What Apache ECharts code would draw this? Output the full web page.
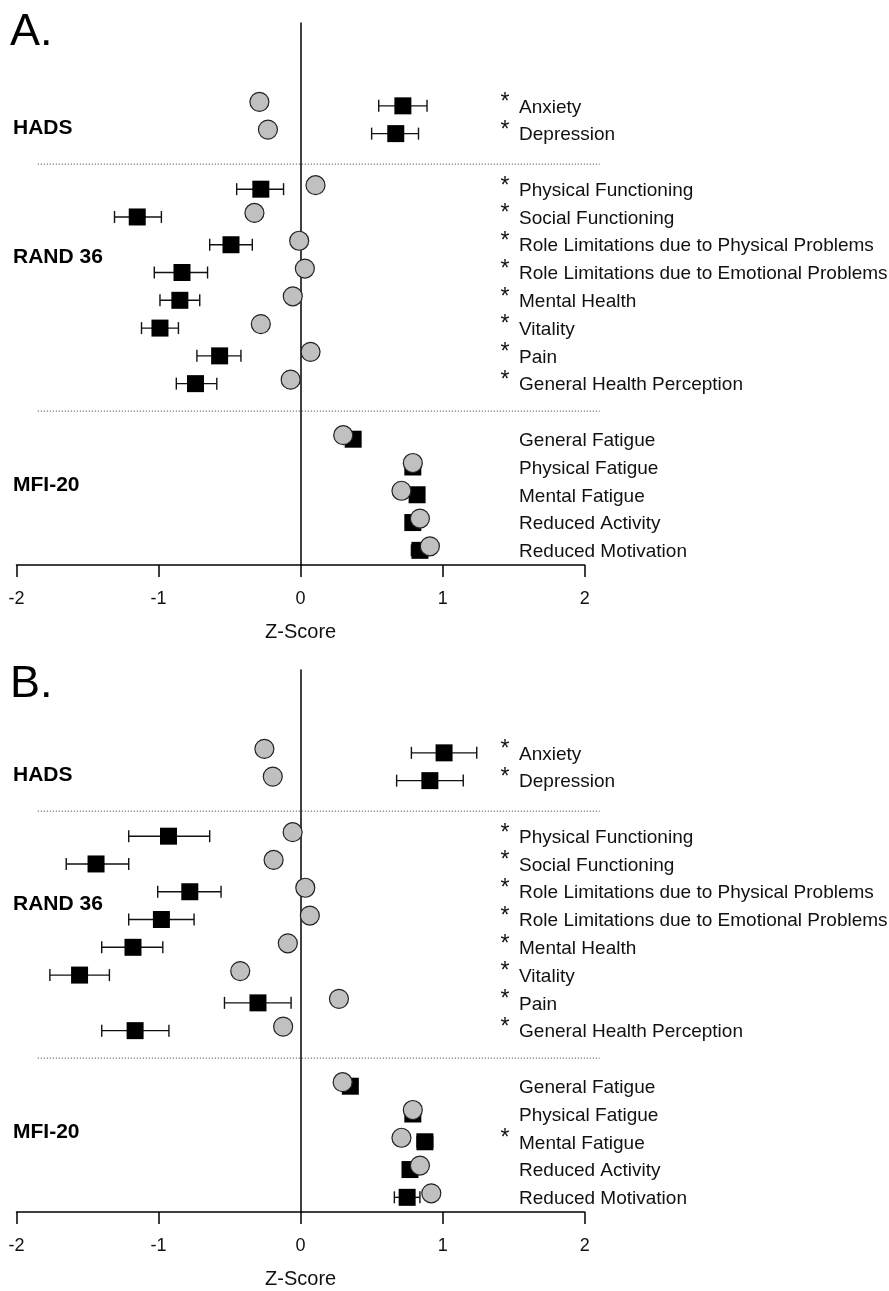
<!DOCTYPE html>
<html>
<head>
<meta charset="utf-8">
<script src="https://cdn.jsdelivr.net/npm/echarts@6/dist/echarts.min.js"></script>
<style>
  html, body { margin: 0; padding: 0; background: #fff; }
  #main { width: 889px; height: 1291px; }
</style>
</head>
<body>
<div id="main"></div>
<script>
// rows, top to bottom (slot = vertical position, gaps hold the dotted separators)
var rowLabels = ['Anxiety', 'Depression', 'Physical Functioning', 'Social Functioning',
  'Role Limitations due to Physical Problems', 'Role Limitations due to Emotional Problems',
  'Mental Health', 'Vitality', 'Pain', 'General Health Perception', 'General Fatigue',
  'Physical Fatigue', 'Mental Fatigue', 'Reduced Activity', 'Reduced Motivation'];
var rowSlots = [0, 1, 3, 4, 5, 6, 7, 8, 9, 10, 12, 13, 14, 15, 16];
var groupNames = ['HADS', 'RAND 36', 'MFI-20'];
var groupSlots = [0.87, 5.52, 13.72];
var separatorSlots = [2.17, 11.06];
var xTicks = [-2, -1, 0, 1, 2];

// panel A
var patientsA = [0.72, 0.67, -0.28, -1.15, -0.49, -0.835, -0.85, -0.99, -0.57, -0.74, 0.37, 0.79, 0.82, 0.79, 0.84];
var lowA = [0.55, 0.50, -0.45, -1.31, -0.64, -1.03, -0.99, -1.12, -0.73, -0.875, 0.32, 0.74, 0.77, 0.74, 0.78];
var highA = [0.89, 0.83, -0.12, -0.98, -0.34, -0.655, -0.71, -0.86, -0.42, -0.59, 0.42, 0.84, 0.87, 0.84, 0.90];
var controlsA = [-0.29, -0.23, 0.105, -0.325, -0.01, 0.03, -0.055, -0.28, 0.07, -0.07, 0.30, 0.79, 0.71, 0.84, 0.91];
var starsA = [1, 1, 1, 1, 1, 1, 1, 1, 1, 1, 0, 0, 0, 0, 0];

// panel B
var patientsB = [1.01, 0.91, -0.93, -1.44, -0.78, -0.98, -1.18, -1.556, -0.30, -1.165, 0.35, 0.79, 0.875, 0.77, 0.75];
var lowB = [0.78, 0.676, -1.21, -1.65, -1.006, -1.21, -1.40, -1.765, -0.536, -1.40, 0.30, 0.74, 0.82, 0.72, 0.66];
var highB = [1.24, 1.145, -0.64, -1.21, -0.56, -0.75, -0.97, -1.346, -0.067, -0.927, 0.40, 0.84, 0.93, 0.82, 0.84];
var controlsB = [-0.255, -0.196, -0.056, -0.19, 0.033, 0.065, -0.09, -0.425, 0.27, -0.123, 0.296, 0.79, 0.71, 0.84, 0.92];
var starsB = [1, 1, 1, 1, 1, 1, 1, 1, 1, 1, 0, 0, 1, 0, 0];

var FONT = '"Liberation Sans", Arial, sans-serif';
var LABEL_X = 1.404;   // where the asterisk column starts
var SEP_X0 = -1.85, SEP_X1 = 2.105;

var chart = echarts.init(document.getElementById('main'));

var gridTops = [23, 670];
var grids = [], xAxes = [], yAxes = [], series = [];

function addPanel(i, patients, low, high, controls, stars) {
  grids.push({ left: 16.5, right: 304.3, top: gridTops[i], height: 542 });
  xAxes.push({
    gridIndex: i, type: 'value', min: xTicks[0], max: xTicks[xTicks.length - 1], interval: 1,
    axisLine: { onZero: false, lineStyle: { color: '#000', width: 1.5 } },
    axisTick: { length: 12, lineStyle: { color: '#000', width: 1.5 } },
    axisLabel: { margin: 25, fontSize: 18, color: '#111', fontFamily: FONT },
    splitLine: { show: false },
    name: 'Z-Score', nameLocation: 'middle', nameGap: 57,
    nameTextStyle: { fontSize: 20, color: '#111', fontFamily: FONT }
  });
  yAxes.push({
    gridIndex: i, type: 'value', inverse: true, min: -2.91, max: 16.6,
    axisLine: { show: true, onZero: true, lineStyle: { color: '#000', width: 1.5 } },
    axisTick: { show: false }, axisLabel: { show: false }, splitLine: { show: false }
  });

  // dotted separators
  series.push({
    type: 'custom', xAxisIndex: i, yAxisIndex: i, silent: true, z: 1,
    data: separatorSlots.map(function (s) { return [SEP_X0, SEP_X1, s]; }),
    encode: { x: [0, 1], y: 2 },
    renderItem: function (params, api) {
      var a = api.coord([api.value(0), api.value(2)]);
      var b = api.coord([api.value(1), api.value(2)]);
      return {
        type: 'line', shape: { x1: a[0], y1: a[1], x2: b[0], y2: b[1] },
        style: { stroke: '#333', lineWidth: 1, lineDash: [1, 2] }
      };
    }
  });

  // error bars
  series.push({
    type: 'custom', xAxisIndex: i, yAxisIndex: i, silent: true, z: 2,
    data: rowSlots.map(function (s, k) { return [low[k], high[k], s]; }),
    encode: { x: [0, 1], y: 2 },
    renderItem: function (params, api) {
      var a = api.coord([api.value(0), api.value(2)]);
      var b = api.coord([api.value(1), api.value(2)]);
      var y = a[1] + 2, h = 6;
      var st = { stroke: '#111', lineWidth: 1.4 };
      return {
        type: 'group', children: [
          { type: 'line', shape: { x1: a[0], y1: y, x2: b[0], y2: y }, style: st },
          { type: 'line', shape: { x1: a[0], y1: y - h, x2: a[0], y2: y + h }, style: st },
          { type: 'line', shape: { x1: b[0], y1: y - h, x2: b[0], y2: y + h }, style: st }
        ]
      };
    }
  });

  // patients (black squares)
  series.push({
    type: 'scatter', xAxisIndex: i, yAxisIndex: i, silent: true, z: 3,
    symbol: 'rect', symbolSize: 17, symbolOffset: [0, 2],
    itemStyle: { color: '#000', opacity: 1 },
    data: rowSlots.map(function (s, k) { return [patients[k], s]; })
  });

  // controls (grey circles)
  series.push({
    type: 'scatter', xAxisIndex: i, yAxisIndex: i, silent: true, z: 4,
    symbol: 'circle', symbolSize: 19, symbolOffset: [0, -2],
    itemStyle: { color: '#c0c0c0', borderColor: '#222', borderWidth: 1.2, opacity: 1 },
    data: rowSlots.map(function (s, k) { return [controls[k], s]; })
  });

  // row labels with asterisks
  series.push({
    type: 'scatter', xAxisIndex: i, yAxisIndex: i, silent: true, z: 5,
    symbolSize: 1, itemStyle: { color: 'transparent', opacity: 1 },
    data: rowSlots.map(function (s) { return [LABEL_X, s]; }),
    label: {
      show: true, position: 'right', distance: 0, offset: [0, 3.5],
      formatter: function (p) {
        return (stars[p.dataIndex] ? '{s|*}' : '{h|*}') + '{t|' + rowLabels[p.dataIndex] + '}';
      },
      rich: {
        s: { width: 18.5, fontSize: 23, color: '#111', fontFamily: FONT, verticalAlign: 'middle', padding: [0, 0, 9, 0] },
        h: { width: 18.5, fontSize: 23, color: 'transparent', fontFamily: FONT, verticalAlign: 'middle', padding: [0, 0, 9, 0] },
        t: { fontSize: 19, color: '#111', fontFamily: FONT, verticalAlign: 'middle' }
      }
    }
  });

  // group labels
  series.push({
    type: 'scatter', xAxisIndex: i, yAxisIndex: i, silent: true, z: 5,
    symbolSize: 1, itemStyle: { color: 'transparent', opacity: 1 },
    data: groupSlots.map(function (s, k) { return { value: [xTicks[0], s], name: groupNames[k] }; }),
    label: {
      show: true, position: 'right', distance: 0, offset: [-4, 0],
      formatter: '{b}', fontSize: 21, fontWeight: 'bold', color: '#000', fontFamily: FONT
    }
  });
}

addPanel(0, patientsA, lowA, highA, controlsA, starsA);
addPanel(1, patientsB, lowB, highB, controlsB, starsB);

chart.setOption({
  animation: false,
  backgroundColor: '#fff',
  grid: grids,
  xAxis: xAxes,
  yAxis: yAxes,
  series: series,
  graphic: [
    { type: 'text', left: 10, top: 10, style: { text: 'A.', fontSize: 45, fill: '#000', fontFamily: FONT } },
    { type: 'text', left: 10, top: 662, style: { text: 'B.', fontSize: 45, fill: '#000', fontFamily: FONT } }
  ]
});
</script>
</body>
</html>
